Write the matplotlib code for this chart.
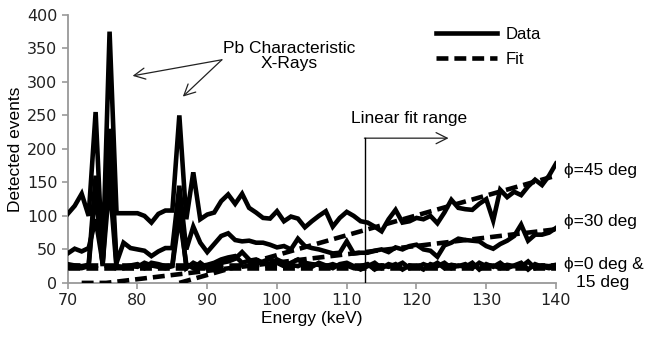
import numpy as np
import matplotlib
matplotlib.use('Agg')
import matplotlib.pyplot as plt
from matplotlib.lines import Line2D

energy = list(range(70, 141))

# phi = 45 deg
d45 = [103, 115, 133, 100, 255, 30, 375, 104, 104, 104, 104, 100, 90, 103, 108, 108,
       250, 95, 165, 95, 102, 105, 122, 132, 118, 133, 112, 105, 97, 96, 107, 92,
       99, 96, 83, 92, 100, 107, 84, 97, 106, 100, 92, 90, 84, 77, 95, 109, 90, 92,
       97, 95, 100, 89, 105, 124, 112, 110, 109, 118, 125, 93, 139, 128, 136, 131,
       144, 154, 146, 160, 178]
# phi = 30 deg
d30 = [44, 51, 47, 52, 95, 30, 230, 30, 60, 52, 50, 48, 40, 47, 52, 52,
       145, 50, 84, 60, 46, 58, 70, 74, 64, 62, 63, 60, 60, 57, 53, 55,
       50, 66, 55, 52, 50, 47, 44, 45, 62, 44, 45, 45, 48, 50, 46, 53, 50, 55,
       57, 50, 48, 39, 56, 60, 66, 64, 63, 62, 55, 51, 58, 63, 70, 87,
       63, 72, 72, 75, 82]
# phi = 0 deg
d0 = [28, 26, 25, 27, 160, 25, 190, 25, 24, 26, 28, 22, 30, 28, 25, 26,
      120, 22, 30, 25, 27, 30, 35, 38, 40, 30, 33, 35, 30, 28, 35, 30,
      27, 25, 30, 28, 27, 25, 28, 24, 26, 22, 25, 28, 20, 26, 24, 28, 20, 26,
      23, 28, 24, 30, 22, 27, 25, 28, 22, 30, 25, 26, 22, 27, 25, 24,
      32, 22, 26, 25, 27]
# phi = 15 deg
d15 = [22, 24, 22, 25, 140, 28, 150, 22, 22, 25, 24, 30, 26, 24, 22, 25,
       100, 28, 22, 30, 22, 25, 30, 32, 36, 46, 35, 28, 32, 36, 30, 25,
       30, 35, 28, 24, 30, 26, 22, 28, 30, 25, 20, 25, 30, 22, 28, 25, 30, 22,
       25, 20, 28, 25, 30, 22, 26, 24, 30, 20, 28, 24, 30, 22, 26, 30,
       20, 28, 24, 22, 25]

# straight fit lines (end points)
fit45_e = [86, 140]
fit45_v = [0, 160]
fit30_e = [72, 75.5, 140]
fit30_v = [0, 0, 80]
fit0_e = [70, 140]
fit0_v = [27, 27]
fit15_e = [70, 140]
fit15_v = [22, 22]

fit_start = 112.6

plt.rcParams['font.family'] = ['Liberation Sans', 'DejaVu Sans']

fig = plt.figure(figsize=(6.45, 3.38), dpi=100)
ax = fig.add_axes([0.105, 0.163, 0.757, 0.793])

lw = 3.3
dash = (0, (2.6, 1.3))
for d in [d0, d15, d30, d45]:
    ax.plot(energy, d, color='k', lw=lw, solid_joinstyle='miter', zorder=3)
for fe, fv in [(fit0_e, fit0_v), (fit15_e, fit15_v), (fit30_e, fit30_v), (fit45_e, fit45_v)]:
    ax.plot(fe, fv, color='k', lw=lw, ls=dash, zorder=4)

ax.set_xlim(70, 140)
ax.set_ylim(0, 400)
ax.set_xticks(range(70, 141, 10))
ax.set_yticks(range(0, 401, 50))
for s in ['top', 'right']:
    ax.spines[s].set_visible(False)
for s in ['left', 'bottom']:
    ax.spines[s].set_color('#999999')
    ax.spines[s].set_linewidth(1.3)
ax.tick_params(colors='#999999', labelcolor='#222222', length=4, width=1.2,
               labelsize=11.5)
for lab in ax.get_xticklabels() + ax.get_yticklabels():
    lab.set_family('DejaVu Sans')

ax.set_xlabel('Energy (keV)', fontsize=12.5, labelpad=2)
ax.set_ylabel('Detected events', fontsize=12.5, labelpad=3)

# legend
handles = [Line2D([], [], color='k', lw=3.3),
           Line2D([], [], color='k', lw=3.3, ls=dash)]
ax.legend(handles, ['Data', 'Fit'], loc='upper left', bbox_to_anchor=(0.754, 0.955),
          frameon=False, handlelength=3.65, fontsize=12, labelspacing=0.62,
          handletextpad=0.55, borderpad=0, borderaxespad=0)

# Pb annotation
ax.text(101.8, 339, 'Pb Characteristic\nX-Rays', ha='center', va='center',
        fontsize=12.5, linespacing=1.0)
ap = dict(arrowstyle='->', color='#222222', lw=0.9, mutation_scale=20,
          shrinkA=0, shrinkB=0)
ax.annotate('', xy=(79.3, 309), xytext=(92.1, 333), arrowprops=ap)
ax.annotate('', xy=(86.5, 278), xytext=(92.1, 333), arrowprops=ap)

# linear fit range
ax.plot([fit_start, fit_start], [0, 216], color='k', lw=1.0, zorder=5)
ax.annotate('', xy=(124.6, 216), xytext=(fit_start - 0.07, 216), arrowprops=ap)
ax.text(118.9, 246, 'Linear fit range', ha='center', va='center', fontsize=12.5)

# right labels
ax.text(141.2, 168, 'ϕ=45 deg', ha='left', va='center', fontsize=12.5, clip_on=False)
ax.text(141.2, 91, 'ϕ=30 deg', ha='left', va='center', fontsize=12.5, clip_on=False)
ax.text(141.2, 27, 'ϕ=0 deg &', ha='left', va='center', fontsize=12.5, clip_on=False)
ax.text(142.8, 0, '15 deg', ha='left', va='center', fontsize=12.5, clip_on=False)

fig.savefig('out.png', dpi=100)
